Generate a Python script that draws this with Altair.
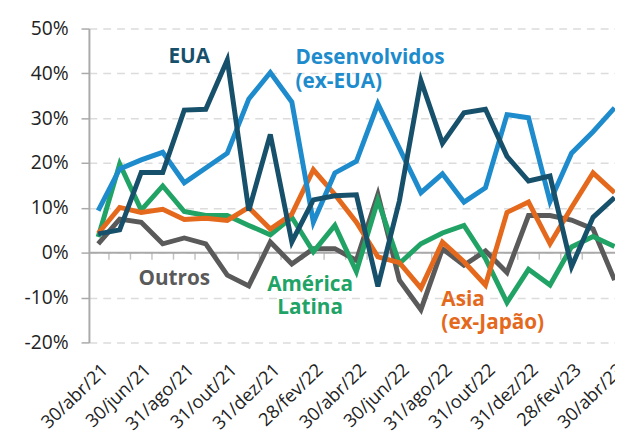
import altair as alt
import pandas as pd

months = ["30/abr/21", "31/mai/21", "30/jun/21", "31/jul/21", "31/ago/21", "30/set/21",
          "31/out/21", "30/nov/21", "31/dez/21", "31/jan/22", "28/fev/22", "31/mar/22",
          "30/abr/22", "31/mai/22", "30/jun/22", "31/jul/22", "31/ago/22", "30/set/22",
          "31/out/22", "30/nov/22", "31/dez/22", "31/jan/23", "28/fev/23", "31/mar/23",
          "30/abr/23"]

eua = [4.2, 5.1, 17.9, 17.9, 31.8, 32.0, 43.0, 9.4, 26.4, 2.4, 11.8, 12.7, 12.9,
       -7.5, 11.6, 38.4, 24.4, 31.2, 32.0, 21.5, 16.0, 17.1, -3.1, 7.9, 12.3]
desenv = [9.4, 18.7, 20.7, 22.4, 15.6, 18.9, 22.2, 34.3, 40.2, 33.6, 6.8, 17.8, 20.4,
          33.2, 23.3, 13.4, 17.6, 11.3, 14.5, 30.8, 30.1, 11.4, 22.2, 27.0, 32.3]
asia = [4.3, 10.1, 9.0, 9.7, 7.4, 7.7, 7.2, 10.1, 5.3, 8.6, 18.5, 13.0, 6.8,
        -0.9, -2.2, -7.9, 2.4, -2.0, -7.2, 9.0, 11.3, 2.0, 10.1, 17.8, 13.4]
latam = [3.5, 19.8, 9.5, 14.9, 9.2, 8.3, 8.3, 6.1, 4.0, 7.9, 0.2, 6.1, -4.2,
         11.7, -2.4, 2.0, 4.4, 6.1, -1.3, -11.1, -3.7, -7.2, 1.3, 3.6, 1.4]
outros = [2.0, 7.5, 6.8, 2.0, 3.3, 2.0, -5.0, -7.4, 2.4, -2.5, 0.9, 0.9, -1.7,
          13.0, -6.1, -12.7, 0.9, -2.8, 0.4, -4.4, 8.3, 8.3, 7.3, 5.3, -6.1]

y_ticks = [-20, -10, 0, 10, 20, 30, 40, 50]
label_months = list(range(0, 25, 2))
month_bounds = [i + 0.5 for i in range(24)]

series = [
    ("Outros", outros, "#5a5a5a"),
    ("América Latina", latam, "#21a366"),
    ("Asia (ex-Japão)", asia, "#e4691c"),
    ("Desenvolvidos (ex-EUA)", desenv, "#1d8bcc"),
    ("EUA", eua, "#17506a"),
]

# annotation labels: text, x (month index), y (% , first-line baseline), color, align
ann_text = ["EUA", "Desenvolvidos\n(ex-EUA)", "Outros", "América\nLatina", "Asia\n(ex-Japão)"]
ann_x = [4.23, 9.17, 1.87, 9.85, 15.95]
ann_y = [42.4, 42.0, -7.2, -8.6, -11.9]
ann_color = ["#17506a", "#1d8bcc", "#5a5a5a", "#21a366", "#e4691c"]
ann_align = ["center", "left", "left", "center", "left"]

x_scale = alt.Scale(domain=[-0.43, 24.02], nice=False, zero=False)
y_scale = alt.Scale(domain=[-20, 50], nice=False, zero=False)

label_js = "[" + ",".join("'" + m + "'" for m in months) + "]"

x_axis = alt.Axis(values=label_months, labelExpr=label_js + "[datum.value]",
                  labelAngle=-44, labelFont="Open Sans", labelFontSize=18.5,
                  labelColor="#222222", ticks=False, domain=False, grid=False,
                  title=None, labelPadding=18, labelOverlap=False, labelFlush=False)
y_axis = alt.Axis(values=y_ticks, labelExpr="datum.value + '%'", labelFont="Open Sans",
                  labelFontSize=19.5, labelColor="#222222", labelPadding=13,
                  grid=True, gridDash=[8, 6], gridColor="#dcdcdc", gridWidth=1.5,
                  domain=True, domainColor="#aaaaaa", domainWidth=2,
                  ticks=True, tickColor="#aaaaaa", tickSize=8, tickWidth=1.5, title=None)

rows = []
for name, vals, col in series:
    for i, v in enumerate(vals):
        rows.append({"idx": i, "mes": months[i], "serie": name, "valor": v})
df = pd.DataFrame(rows)

layers = []
for name, vals, col in series:
    sub = alt.Chart(df[df["serie"] == name]).mark_line(
        color=col, strokeWidth=5, strokeJoin="miter", clip=True
    ).encode(
        x=alt.X("idx:Q", scale=x_scale, axis=x_axis),
        y=alt.Y("valor:Q", scale=y_scale, axis=y_axis),
    )
    layers.append(sub)

zero_rule = alt.Chart(pd.DataFrame({"v": [0]})).mark_rule(
    color="#aaaaaa", strokeWidth=2
).encode(y=alt.Y("v:Q", scale=y_scale, axis=y_axis))

tick_df = pd.DataFrame({"b": month_bounds, "z": [0] * len(month_bounds)})
zero_ticks = alt.Chart(tick_df).mark_tick(
    orient="vertical", size=7, thickness=1.5, color="#aaaaaa", yOffset=3.5
).encode(
    x=alt.X("b:Q", scale=x_scale, axis=x_axis),
    y=alt.Y("z:Q", scale=y_scale, axis=y_axis),
)

ann_df = pd.DataFrame({"t": ann_text, "x": ann_x, "y": ann_y, "c": ann_color, "a": ann_align})
text_layers = []
for al in ["left", "center"]:
    text_layers.append(
        alt.Chart(ann_df[ann_df["a"] == al]).mark_text(
            align=al, baseline="alphabetic", font="Open Sans", fontSize=21,
            fontWeight="bold", lineBreak="\n", lineHeight=23.5
        ).encode(
            x=alt.X("x:Q", scale=x_scale, axis=x_axis),
            y=alt.Y("y:Q", scale=y_scale, axis=y_axis),
            text="t:N",
            color=alt.Color("c:N", scale=None),
        )
    )

chart = alt.layer(zero_rule, zero_ticks, *layers, *text_layers).properties(
    width=533, height=318,
    padding={"left": 82, "top": 18, "right": 0, "bottom": 92},
    autosize=alt.AutoSizeParams(type="none"),
).configure_view(stroke=None)

chart.save("out.html", embed_options={"renderer": "svg", "actions": False})
